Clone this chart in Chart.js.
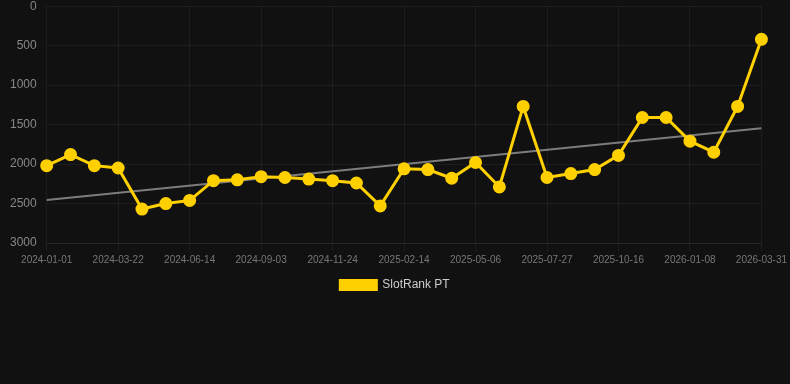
<!DOCTYPE html>
<html>
<head>
<meta charset="utf-8">
<script src="https://cdn.jsdelivr.net/npm/chart.js@4.4.1/dist/chart.umd.min.js"></script>
<style>
html,body{margin:0;padding:0;background:#111111;overflow:hidden;}
#wrap{width:790px;height:312px;position:relative;margin-top:-11px;}
</style>
</head>
<body>
<div id="wrap"><canvas id="c"></canvas></div>
<script>
const categories = [
"2024-01-01","2024-01-28","2024-02-24","2024-03-22","2024-04-19","2024-05-17",
"2024-06-14","2024-07-11","2024-08-07","2024-09-03","2024-09-30","2024-10-27",
"2024-11-24","2024-12-21","2025-01-17","2025-02-14","2025-03-13","2025-04-09",
"2025-05-06","2025-06-02","2025-06-29","2025-07-27","2025-08-23","2025-09-19",
"2025-10-16","2025-11-12","2025-12-10","2026-01-08","2026-02-04","2026-03-03",
"2026-03-31"];
const rankValues = [2020,1880,2020,2050,2570,2500,2460,2210,2200,2160,2170,2190,
2210,2240,2530,2060,2070,2180,1980,2290,1270,2170,2120,2070,1890,1410,1410,1710,
1850,1270,420];
const trendStart = 2455;
const trendEnd = 1545;
const yTicks = [0,500,1000,1500,2000,2500,3000];
const seriesName = "SlotRank PT";

const trendData = categories.map((c,i)=> i===0 ? trendStart : (i===categories.length-1 ? trendEnd : null));
const gridCol = 'rgba(255,255,255,0.05)';

new Chart(document.getElementById('c'), {
  type: 'line',
  data: {
    labels: categories,
    datasets: [
      {
        label: seriesName,
        data: rankValues,
        borderColor: '#FFD000',
        backgroundColor: '#FFD000',
        borderWidth: 3,
        pointRadius: 5,
        pointHoverRadius: 5,
        pointBackgroundColor: '#FFD000',
        pointBorderColor: '#FFD000',
        tension: 0,
        order: 1
      },
      {
        label: 'trend',
        data: trendData,
        spanGaps: true,
        borderColor: 'rgba(160,160,160,0.75)',
        borderWidth: 2,
        pointRadius: 0,
        tension: 0,
        order: 2
      }
    ]
  },
  options: {
    responsive: true,
    maintainAspectRatio: false,
    animation: false,
    layout: {autoPadding: false, padding: {left: 0, right: 0, top: 0, bottom: 0}},
    plugins: {
      legend: {
        position: 'bottom',
        labels: {
          color: '#cccccc',
          font: {family: 'Arial, "Liberation Sans", sans-serif', size: 12},
          boxWidth: 36,
          boxHeight: 9,
          filter: (item) => item.text === seriesName
        }
      },
      tooltip: {enabled: false}
    },
    scales: {
      x: {
        offset: false,
        grid: {
          color: (ctx) => (ctx.index % 3 === 0 ? gridCol : 'rgba(0,0,0,0)'),
          drawTicks: true, tickLength: 8
        },
        border: {color: gridCol},
        ticks: {
          color: '#777777',
          font: {family: 'Arial, "Liberation Sans", sans-serif', size: 10},
          autoSkip: false,
          maxRotation: 0,
          callback: function(v, i){ return i % 3 === 0 ? categories[i] : ''; }
        }
      },
      y: {
        reverse: true,
        min: 0,
        max: 3000,
        afterBuildTicks: (axis) => { axis.ticks = yTicks.map(v => ({value: v})); },
        grid: {color: gridCol, drawTicks: false},
        border: {display: false},
        ticks: {
          color: '#888888',
          padding: 10,
          font: {family: 'Arial, "Liberation Sans", sans-serif', size: 12},
          callback: (v) => String(v)
        }
      }
    }
  }
});
</script>
</body>
</html>
